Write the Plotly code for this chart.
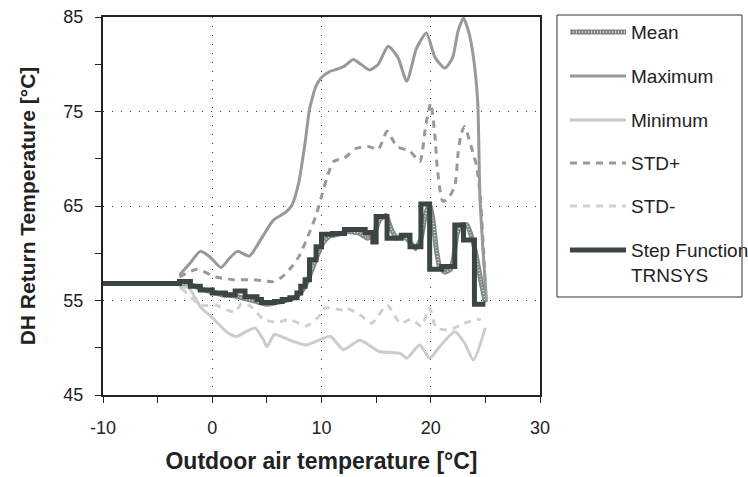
import plotly.graph_objects as go

# ---- data ----
max_x = [-3.0, -2.0, -1.1, -0.2, 0.8, 1.6, 2.3, 3.4, 4.2, 5.0, 5.6, 6.8, 7.3, 7.9, 8.5, 8.9, 9.5, 10.0, 10.7, 11.5, 12.1, 12.9, 13.6, 14.4, 15.2, 16.1, 17.0, 17.8, 18.7, 19.6, 20.4, 21.3, 22.0, 22.5, 23.0, 23.5, 23.9, 24.3, 24.5, 24.8, 25.1]
max_y = [57.7, 59.0, 60.2, 59.6, 58.5, 59.5, 60.2, 59.7, 61.0, 62.5, 63.5, 64.4, 65.1, 67.4, 71.7, 75.2, 77.7, 78.6, 79.2, 79.5, 79.8, 80.5, 80.0, 79.4, 80.0, 81.9, 80.7, 78.2, 81.7, 83.3, 80.7, 79.6, 80.7, 83.5, 84.9, 83.3, 80.8, 76.0, 66.0, 60.0, 55.0]

min_x = [-3.0, -2.2, -1.0, -0.1, 1.3, 2.2, 3.1, 3.9, 4.7, 5.0, 5.7, 7.1, 8.6, 10.8, 12.0, 13.5, 15.3, 17.2, 17.8, 19.0, 19.9, 20.8, 22.2, 23.1, 23.9, 25.0]
min_y = [56.3, 56.4, 54.2, 53.3, 51.7, 51.2, 51.7, 52.1, 50.8, 50.1, 51.4, 50.8, 50.3, 51.2, 49.8, 50.8, 49.6, 49.4, 48.9, 50.3, 48.9, 50.1, 51.7, 50.5, 48.7, 52.1]

stdp_x = [-3.0, -1.4, 0.3, 1.9, 3.8, 5.6, 6.4, 7.3, 8.0, 8.9, 9.5, 10.0, 10.5, 11.1, 12.1, 13.2, 14.3, 15.2, 16.0, 16.9, 18.1, 19.0, 19.55, 20.0, 20.4, 20.6, 21.1, 21.6, 22.2, 22.5, 22.8, 23.1, 23.7, 24.2, 24.5, 24.8, 25.0]
stdp_y = [57.5, 58.3, 57.5, 57.2, 57.2, 57.0, 57.5, 58.6, 59.8, 62.2, 64.0, 66.0, 68.0, 69.7, 70.1, 71.1, 71.3, 71.0, 72.9, 71.3, 70.8, 69.7, 73.6, 75.9, 72.2, 69.0, 65.5, 65.8, 67.1, 70.6, 72.7, 73.4, 71.3, 69.2, 66.4, 61.0, 56.5]

stdm_x = [-2.8, -1.0, 0.4, 1.3, 2.1, 2.7, 3.5, 4.7, 5.9, 7.1, 8.6, 9.6, 10.3, 12.0, 12.3, 13.5, 14.6, 16.0, 17.2, 18.2, 19.15, 19.9, 20.5, 21.7, 23.1, 24.3, 24.6]
stdm_y = [56.3, 54.5, 54.5, 54.0, 53.8, 54.7, 54.4, 53.0, 52.7, 53.0, 52.3, 53.1, 54.2, 54.0, 54.2, 53.5, 52.6, 54.5, 52.6, 53.0, 52.3, 54.2, 52.1, 51.9, 52.6, 53.0, 53.0]

mean_x = [-3.0, -2.0, -1.0, 0.0, 1.0, 2.0, 3.0, 4.0, 5.0, 6.0, 7.0, 7.7, 8.2, 8.7, 9.2, 9.7, 10.2, 10.7, 11.5, 12.5, 13.5, 14.2, 14.8, 15.3, 15.9, 16.4, 16.9, 17.5, 18.1, 18.6, 19.1, 19.5, 19.9, 20.2, 20.5, 20.8, 21.3, 21.8, 22.1, 22.4, 22.8, 23.3, 23.8, 24.2, 24.6, 25.0]
mean_y = [56.7, 56.7, 56.2, 55.9, 55.6, 55.5, 55.2, 54.9, 54.6, 54.8, 55.1, 55.4, 56.0, 57.0, 58.5, 60.0, 61.2, 61.8, 62.0, 62.3, 62.1, 61.6, 62.0, 63.5, 64.0, 62.5, 61.6, 61.8, 61.2, 60.5, 61.5, 64.0, 65.2, 63.5, 60.5, 58.6, 58.0, 58.3, 59.5, 62.0, 63.0, 63.0, 61.5, 59.5, 57.0, 54.8]

step_x = [-10, -3.0, -2.0, -1.1, 0.0, 1.2, 2.1, 3.0, 4.1, 4.5, 5.7, 6.4, 7.1, 7.75, 8.1, 8.5, 8.9, 9.5, 10.0, 11.0, 12.1, 14.0, 14.7, 15.0, 16.0, 17.3, 18.1, 19.1, 19.9, 21.0, 22.2, 23.0, 24.0, 25.0]
step_y = [56.8, 57.0, 56.5, 56.1, 55.8, 55.6, 56.0, 55.4, 55.1, 54.8, 54.9, 55.1, 55.3, 55.8, 56.5, 57.2, 59.3, 60.7, 62.0, 62.1, 62.5, 62.2, 61.2, 63.9, 61.6, 61.9, 60.7, 65.2, 58.3, 58.6, 63.0, 61.4, 54.6, 54.6]

x_ticks = [-10, 0, 10, 20, 30]
y_ticks = [45, 55, 65, 75, 85]

legend_names = ["Mean", "Maximum", "Minimum", "STD+", "STD-", "Step Function<br>TRNSYS"]

FONT = "Liberation Sans, Arial, sans-serif"
INK = "#222222"

# plot-area geometry in pixels (for the hand-drawn legend box)
W, H = 748, 477
ML, MR, MT, MB = 103, 208, 17, 82
PW, PH = W - ML - MR, H - MT - MB


def px(xp):
    return (xp - ML) / PW


def py(yp):
    return (H - MB - yp) / PH


styles = {
    "Mean": dict(color="#7f8787", width=5),
    "Maximum": dict(color="#999999", width=3),
    "Minimum": dict(color="#cccccc", width=3),
    "STD+": dict(color="#999999", width=3, dash="7px,6px"),
    "STD-": dict(color="#d0d0d0", width=3, dash="7px,6px"),
    "Step": dict(color="#3b4545", width=5),
}

fig = go.Figure()

fig.add_trace(go.Scatter(x=mean_x, y=mean_y, mode="lines", name="Mean", showlegend=False,
                         line=dict(**styles["Mean"], shape="spline", smoothing=0.4)))
fig.add_trace(go.Scatter(x=mean_x, y=mean_y, mode="lines", showlegend=False, hoverinfo="skip",
                         line=dict(color="#e8e8e8", width=1.5, dash="1px,2px", shape="spline", smoothing=0.4)))
fig.add_trace(go.Scatter(x=max_x, y=max_y, mode="lines", name="Maximum", showlegend=False,
                         line=dict(**styles["Maximum"], shape="spline", smoothing=0.6)))
fig.add_trace(go.Scatter(x=min_x, y=min_y, mode="lines", name="Minimum", showlegend=False,
                         line=dict(**styles["Minimum"], shape="spline", smoothing=0.6)))
fig.add_trace(go.Scatter(x=stdp_x, y=stdp_y, mode="lines", name="STD+", showlegend=False,
                         line=dict(**styles["STD+"], shape="spline", smoothing=0.6)))
fig.add_trace(go.Scatter(x=stdm_x, y=stdm_y, mode="lines", name="STD-", showlegend=False,
                         line=dict(**styles["STD-"], shape="spline", smoothing=0.6)))
fig.add_trace(go.Scatter(x=step_x, y=step_y, mode="lines", name="Step Function TRNSYS", showlegend=False,
                         line=dict(**styles["Step"], shape="hv")))

axis_common = dict(
    showline=True, mirror=True, linecolor=INK, linewidth=2,
    ticks="outside", ticklen=6, tickcolor=INK, tickwidth=1,
    showgrid=True, gridcolor="#333333", gridwidth=1, griddash="1px,8px",
    zeroline=False, automargin=False,
    tickfont=dict(family=FONT, size=18, color=INK),
)

fig.update_xaxes(range=[-10, 30], tickvals=x_ticks, ticktext=[str(v) for v in x_ticks],
                 minor=dict(tickvals=[-5, 5, 15, 25], ticks="outside", ticklen=6, tickcolor=INK, showgrid=False),
                 title=dict(text="<b>Outdoor air temperature [°C]</b>", standoff=16,
                            font=dict(family=FONT, size=23, color=INK)),
                 ticklabelstandoff=9, **axis_common)
fig.update_yaxes(range=[45, 85], tickvals=y_ticks, ticktext=[str(v) for v in y_ticks],
                 minor=dict(tickvals=[50, 60, 70, 80], ticks="outside", ticklen=6, tickcolor=INK, showgrid=False),
                 title=dict(text="<b>DH Return Temperature [°C]</b>", standoff=22,
                            font=dict(family=FONT, size=21, color=INK)),
                 ticklabelstandoff=8, **axis_common)

# ---- legend, drawn by hand to match the boxed legend of the reference ----
shapes = [dict(type="rect", xref="paper", yref="paper",
               x0=px(557), x1=px(742), y0=py(297), y1=py(15),
               line=dict(color="#333333", width=1), fillcolor="white", layer="above")]
annotations = []
row_y = [32, 76, 120, 163, 206, 250]
keys = ["Mean", "Maximum", "Minimum", "STD+", "STD-", "Step"]
for name, key, yy in zip(legend_names, keys, row_y):
    shapes.append(dict(type="line", xref="paper", yref="paper",
                       x0=px(570), x1=px(626), y0=py(yy), y1=py(yy),
                       line=styles[key], layer="above"))
    if key == "Mean":
        shapes.append(dict(type="line", xref="paper", yref="paper",
                           x0=px(570), x1=px(626), y0=py(yy), y1=py(yy),
                           line=dict(color="#e8e8e8", width=1.5, dash="1px,2px"), layer="above"))
    annotations.append(dict(xref="paper", yref="paper", x=px(629), y=py(yy - 12),
                            xanchor="left", yanchor="top", align="left", showarrow=False,
                            text=name, font=dict(family=FONT, size=19, color=INK)))

fig.update_layout(
    width=W, height=H,
    margin=dict(l=ML, r=MR, t=MT, b=MB, autoexpand=False),
    paper_bgcolor="white", plot_bgcolor="white",
    showlegend=False,
    shapes=shapes, annotations=annotations,
)

fig.write_html("out.html")
